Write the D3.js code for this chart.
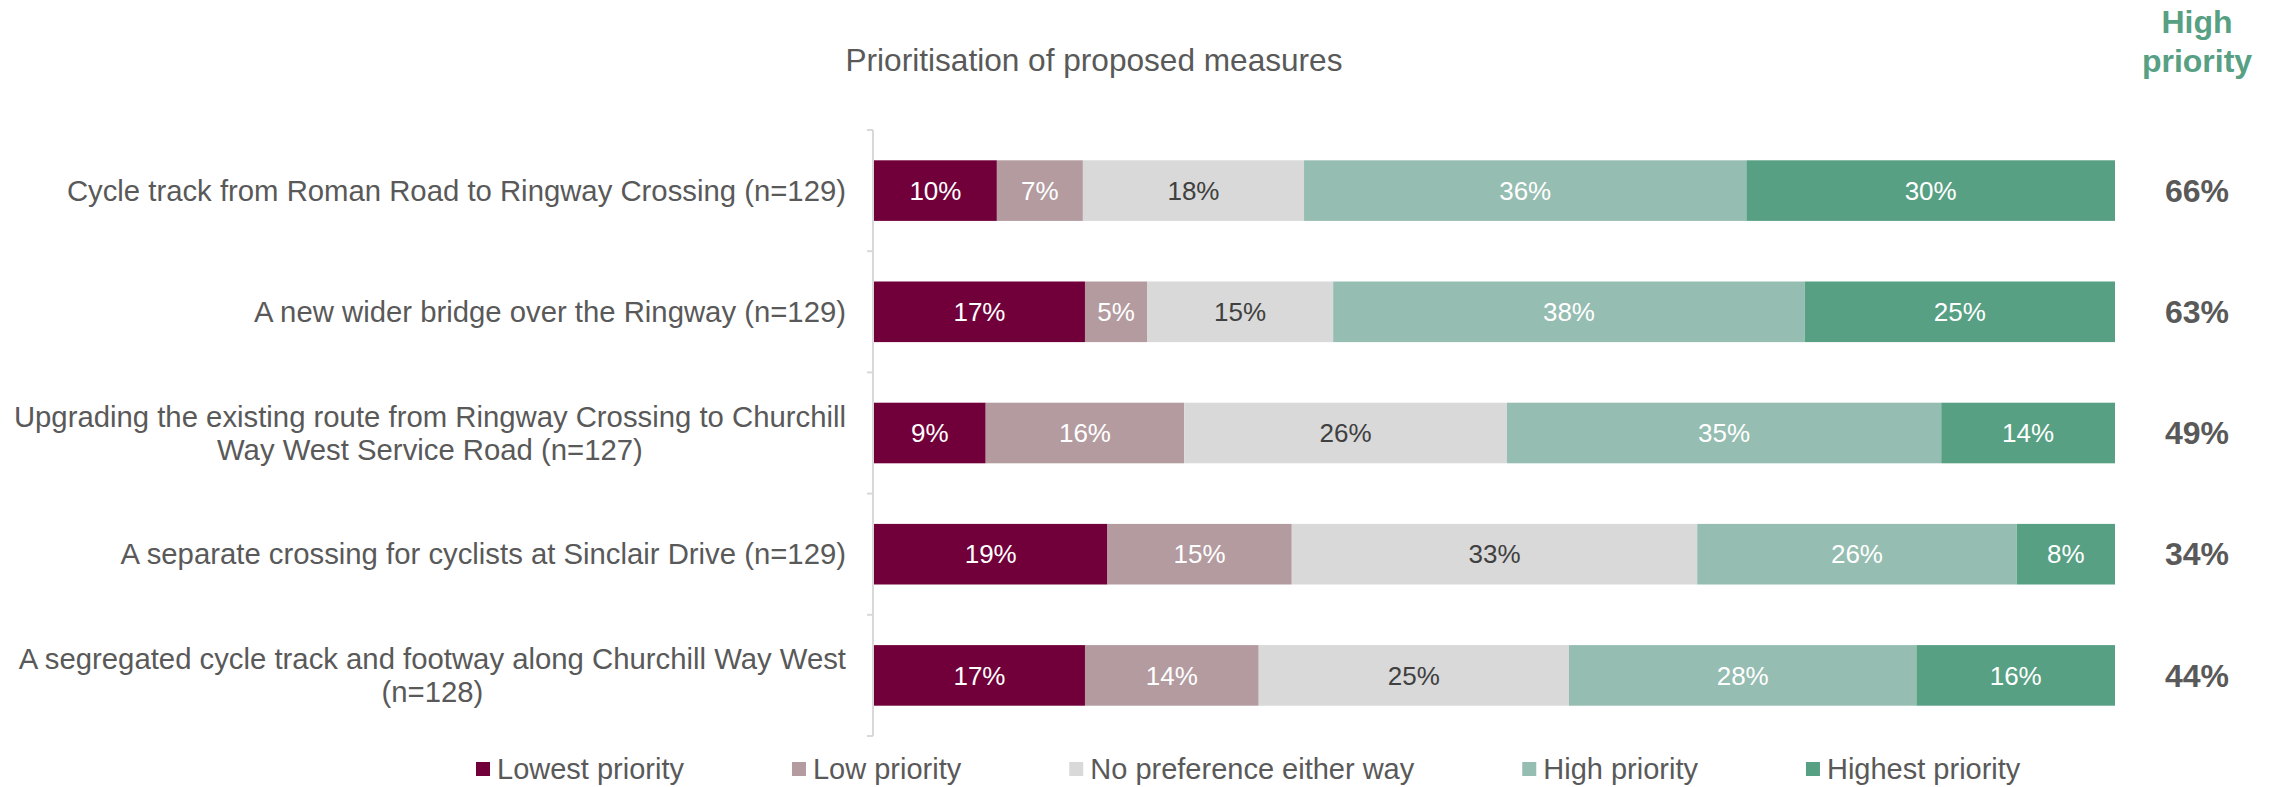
<!DOCTYPE html>
<html>
<head>
<meta charset="utf-8">
<script src="https://cdn.jsdelivr.net/npm/d3@7"></script>
<style>
  html, body { margin: 0; padding: 0; background: #fff; }
  svg { display: block; font-family: "Liberation Sans", Arial, sans-serif; }
</style>
</head>
<body>
<svg id="chart" width="2279" height="787"></svg>
<script>
// Survey measures, top to bottom; "\n" marks a wrapped line
const measures = [
  "Cycle track from Roman Road to Ringway Crossing (n=129)",
  "A new wider bridge over the Ringway (n=129)",
  "Upgrading the existing route from Ringway Crossing to Churchill\nWay West Service Road (n=127)",
  "A separate crossing for cyclists at Sinclair Drive (n=129)",
  "A segregated cycle track and footway along Churchill Way West\n(n=128)"
];

const seriesNames = ["Lowest priority", "Low priority", "No preference either way", "High priority", "Highest priority"];
const seriesColors = ["#71003a", "#b39ba0", "#d9d9d9", "#95bdb1", "#57a083"];
const labelColors = ["#ffffff", "#ffffff", "#404040", "#ffffff", "#ffffff"];

// Percentage of respondents per measure, one array per response
const lowest    = [10, 17,  9, 19, 17];
const low       = [ 7,  5, 16, 15, 14];
const noPref    = [18, 15, 26, 33, 25];
const high      = [36, 38, 35, 26, 28];
const highest   = [30, 25, 14,  8, 16];

const series = [lowest, low, noPref, high, highest];

const svg = d3.select("#chart");
const textGrey = "#595959";

// Build rows for a 100% stacked layout
const rows = measures.map((m, i) => {
  const r = { measure: m };
  seriesNames.forEach((s, j) => { r[s] = series[j][i]; });
  return r;
});

const stack = d3.stack().keys(seriesNames).offset(d3.stackOffsetExpand);
const layers = stack(rows);

const x = d3.scaleLinear().domain([0, 1]).range([874, 2115]);
const y = d3.scaleBand().domain(measures).range([130, 736]).paddingInner(0.5).paddingOuter(0.25);

// Title
svg.append("text")
  .attr("x", 1094).attr("y", 71)
  .attr("text-anchor", "middle")
  .attr("fill", textGrey)
  .attr("font-size", 31.6)
  .text("Prioritisation of proposed measures");

// Column header for the combined high-priority share
const hdr = svg.append("text")
  .attr("text-anchor", "middle")
  .attr("fill", "#57a083")
  .attr("font-size", 32)
  .attr("font-weight", "bold");
hdr.append("tspan").attr("x", 2197).attr("y", 33).text("High");
hdr.append("tspan").attr("x", 2197).attr("y", 72).text("priority");

// Category axis: vertical line with ticks between bands
const axisG = svg.append("g");
const step = y.step();
const bandEdges = measures.map(m => y(m) - step * y.paddingInner() / 2);
bandEdges.push(y(measures[measures.length - 1]) + y.bandwidth() + step * y.paddingInner() / 2);
axisG.append("line")
  .attr("x1", x(0) - 1).attr("x2", x(0) - 1)
  .attr("y1", bandEdges[0]).attr("y2", bandEdges[bandEdges.length - 1])
  .attr("stroke", "#d9d9d9").attr("stroke-width", 2);
axisG.selectAll("line.tick").data(bandEdges).join("line")
  .attr("class", "tick")
  .attr("x1", x(0) - 7).attr("x2", x(0) - 1)
  .attr("y1", d => d).attr("y2", d => d)
  .attr("stroke", "#d9d9d9").attr("stroke-width", 2);

// Category labels, right aligned as a block, wrapped lines centred on each other
const labelRight = 846;
const lineH = 33.5;
measures.forEach(m => {
  const lines = m.split("\n");
  const cy = y(m) + y.bandwidth() / 2;
  const t = svg.append("text")
    .attr("fill", textGrey)
    .attr("font-size", 29.3)
    .attr("text-anchor", "middle");
  const tspans = lines.map((ln, k) => t.append("tspan")
    .attr("y", cy + (k - (lines.length - 1) / 2) * lineH)
    .attr("dy", "0.35em")
    .text(ln));
  const widest = d3.max(tspans, s => s.node().getComputedTextLength());
  tspans.forEach(s => s.attr("x", labelRight - widest / 2));
});

// Stacked bars
const layerG = svg.selectAll("g.layer").data(layers).join("g")
  .attr("class", "layer")
  .attr("fill", (d, i) => seriesColors[i]);

layerG.selectAll("rect").data(d => d).join("rect")
  .attr("x", d => x(d[0]))
  .attr("y", d => y(d.data.measure))
  .attr("width", d => x(d[1]) - x(d[0]))
  .attr("height", y.bandwidth());

// Segment value labels
layers.forEach((layer, i) => {
  svg.append("g").selectAll("text").data(layer).join("text")
    .attr("x", d => (x(d[0]) + x(d[1])) / 2)
    .attr("y", d => y(d.data.measure) + y.bandwidth() / 2)
    .attr("dy", "0.35em")
    .attr("text-anchor", "middle")
    .attr("font-size", 26)
    .attr("fill", labelColors[i])
    .text(d => d.data[layer.key] + "%");
});

// Combined high + highest priority share
svg.append("g").selectAll("text").data(rows).join("text")
  .attr("x", 2197)
  .attr("y", d => y(d.measure) + y.bandwidth() / 2)
  .attr("dy", "0.35em")
  .attr("text-anchor", "middle")
  .attr("font-size", 32)
  .attr("font-weight", "bold")
  .attr("fill", textGrey)
  .text(d => (d["High priority"] + d["Highest priority"]) + "%");

// Legend
const legend = svg.append("g");
let lx = 476;
const ly = 769;
seriesNames.forEach((s, i) => {
  legend.append("rect")
    .attr("x", lx).attr("y", ly - 7)
    .attr("width", 14).attr("height", 14)
    .attr("fill", seriesColors[i]);
  const t = legend.append("text")
    .attr("x", lx + 21).attr("y", ly)
    .attr("dy", "0.35em")
    .attr("font-size", 29)
    .attr("fill", textGrey)
    .text(s);
  lx += 21 + t.node().getComputedTextLength() + 108;
});
</script>
</body>
</html>
